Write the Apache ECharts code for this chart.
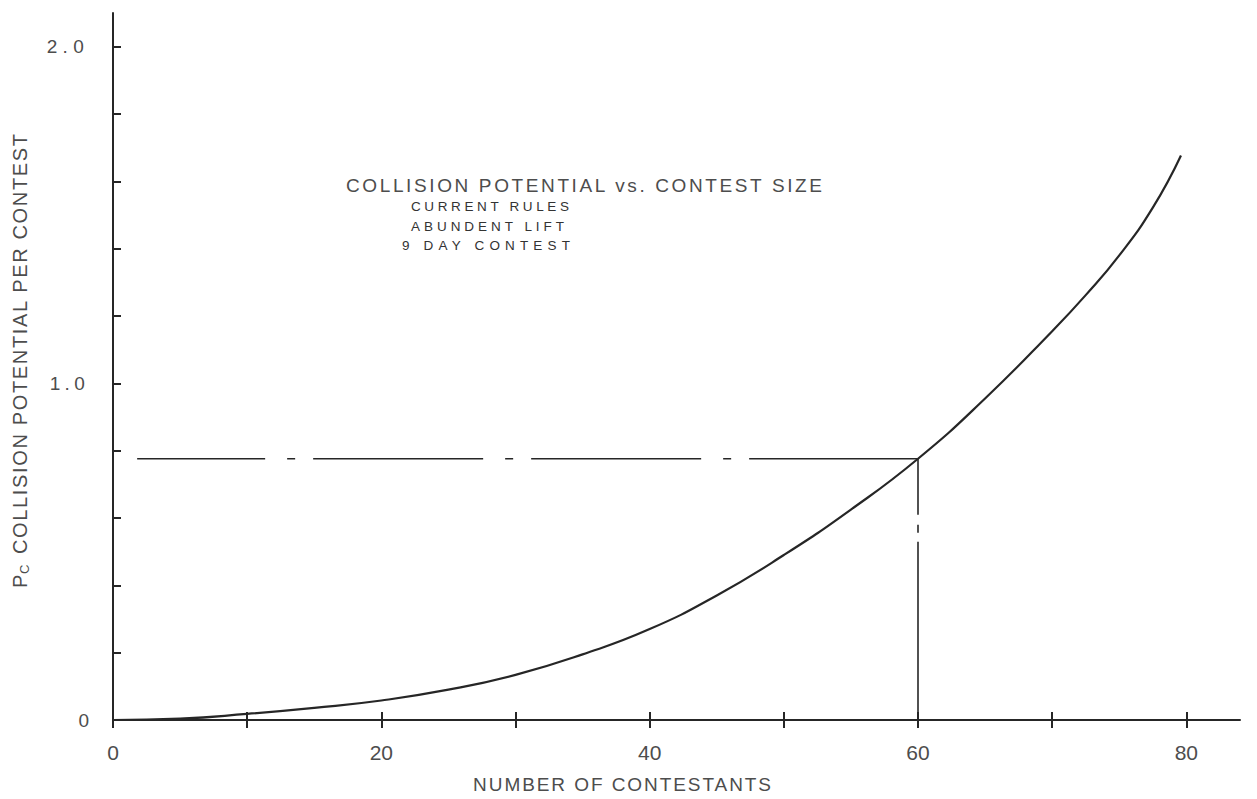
<!DOCTYPE html>
<html><head><meta charset="utf-8">
<script src="https://cdn.jsdelivr.net/npm/echarts@6/dist/echarts.min.js"></script>
<style>html,body{margin:0;padding:0;background:#fff}#c{width:1257px;height:799px}</style>
</head><body><div id="c"></div>
<script>
// Data
const contestants = [0, 5, 10, 15, 20, 25, 30, 35, 40, 45, 50, 55, 60, 65, 70, 72.5, 75, 77.5, 79.6];
const collisionPotential = [0, 0.004, 0.018, 0.036, 0.058, 0.09, 0.134, 0.195, 0.27, 0.37, 0.49, 0.625, 0.776, 0.955, 1.155, 1.262, 1.38, 1.522, 1.677];
const refContestants = 60;
const refPotential = 0.776;
const refLineStartX = 1.8;
const xTickValues = [0, 20, 40, 60, 80];
const xMinorTicks = [0, 10, 20, 30, 40, 50, 60, 70, 80];
const yTickValues = [0, 1, 2];
const yMinorTicks = [0, 0.2, 0.4, 0.6, 0.8, 1.0, 1.2, 1.4, 1.6, 1.8, 2.0];
const xTitle = 'NUMBER OF CONTESTANTS';
const yTitleMain = 'COLLISION POTENTIAL PER CONTEST';
const yTitleP = 'P';
const yTitleSub = 'C';
const annotationTitle = 'COLLISION POTENTIAL vs. CONTEST SIZE';
const annotationLines = ['CURRENT RULES', 'ABUNDENT LIFT', '9 DAY CONTEST'];

const ink = '#262626';
const textInk = '#4d4d4d';
const narrow = '"Liberation Sans Narrow", "Liberation Sans", sans-serif';
const sans = '"Liberation Sans", sans-serif';

// target visible widths of lettered text (hand lettering has wide spacing)
const fitWidths = {};
fitWidths[annotationTitle] = 476;
fitWidths[annotationLines[0]] = 158;
fitWidths[annotationLines[1]] = 153;
fitWidths[annotationLines[2]] = 168;
fitWidths[xTitle] = 298;
fitWidths[yTitleMain] = 420;
fitWidths['2.0'] = 37;
fitWidths['1.0'] = 35;

const curve = contestants.map((x, i) => [x, collisionPotential[i]]);
const hRef = [[refLineStartX, refPotential], [refContestants, refPotential]];
const vRef = [[refContestants, refPotential], [refContestants, 0]];

const chart = echarts.init(document.getElementById('c'), null, { renderer: 'svg' });
chart.setOption({
  animation: false,
  backgroundColor: '#fff',
  grid: { left: 113, right: 17, top: 13, bottom: 79, containLabel: false },
  xAxis: [{
    type: 'value', min: 0, max: 84, interval: 10,
    splitLine: { show: false },
    axisLine: { show: true, lineStyle: { color: ink, width: 2 } },
    axisTick: { show: true, length: 8, customValues: xMinorTicks, lineStyle: { color: ink, width: 2 } },
    axisLabel: { customValues: xTickValues, formatter: v => String(v), color: textInk, fontFamily: narrow, fontSize: 21, margin: 22 }
  }, {
    type: 'value', min: 0, max: 84, interval: 10, position: 'bottom',
    splitLine: { show: false },
    axisLine: { show: false },
    axisTick: { show: true, inside: true, length: 8, customValues: xMinorTicks, lineStyle: { color: ink, width: 2 } },
    axisLabel: { show: false }
  }],
  yAxis: {
    type: 'value', min: 0, max: 2.1, interval: 0.2,
    splitLine: { show: false },
    axisLine: { show: true, lineStyle: { color: ink, width: 2 } },
    axisTick: { show: true, inside: true, length: 8, customValues: yMinorTicks, lineStyle: { color: ink, width: 2 } },
    axisLabel: { customValues: yTickValues, formatter: v => (v === 0 ? '0' : v.toFixed(1)), color: textInk, fontFamily: narrow, fontSize: 19, margin: 24 }
  },
  series: [{
    type: 'line', data: curve, smooth: 0.5, showSymbol: false,
    lineStyle: { color: ink, width: 2.2 }, z: 3
  }, {
    type: 'line', data: hRef, showSymbol: false,
    lineStyle: { color: ink, width: 1.6, type: [170, 22, 8, 18], dashOffset: 42 }
  }, {
    type: 'line', data: vRef, showSymbol: false,
    lineStyle: { color: ink, width: 1.6, type: [180, 10, 8, 9], dashOffset: 124 }
  }],
  graphic: [
    { type: 'text', left: 346, top: 176, style: { text: annotationTitle, fontFamily: narrow, fontSize: 19, fill: textInk } },
    { type: 'text', left: 411, top: 199, style: { text: annotationLines[0], fontFamily: sans, fontSize: 13.5, fill: '#333' } },
    { type: 'text', left: 411, top: 219, style: { text: annotationLines[1], fontFamily: sans, fontSize: 13.5, fill: '#333' } },
    { type: 'text', left: 402, top: 238, style: { text: annotationLines[2], fontFamily: sans, fontSize: 13.5, fill: '#333' } },
    { type: 'text', x: 623, y: 784, style: { text: xTitle, fontFamily: narrow, fontSize: 19, fill: textInk, align: 'center', verticalAlign: 'middle' } },
    { type: 'text', x: 20, y: 588, rotation: Math.PI / 2, style: { text: yTitleP, fontFamily: narrow, fontSize: 20, fill: textInk, align: 'left', verticalAlign: 'middle' } },
    { type: 'text', x: 24, y: 574, rotation: Math.PI / 2, style: { text: yTitleSub, fontFamily: narrow, fontSize: 13, fill: textInk, align: 'left', verticalAlign: 'middle' } },
    { type: 'text', x: 20, y: 554, rotation: Math.PI / 2, style: { text: yTitleMain, fontFamily: narrow, fontSize: 20, fill: textInk, align: 'left', verticalAlign: 'middle' } }
  ]
});

function applyFit() {
  const svg = document.querySelector('#c svg');
  if (!svg) return;
  svg.querySelectorAll('text').forEach(t => {
    const s = t.textContent;
    if (!(s in fitWidths)) return;
    t.setAttribute('letter-spacing', '0');
    const nat = t.getComputedTextLength();
    const ls = (fitWidths[s] - nat) / Math.max(1, s.length - 1);
    t.setAttribute('letter-spacing', ls.toFixed(2));
  });
}
applyFit();
chart.on('finished', applyFit);
setTimeout(applyFit, 50);
</script>
</body></html>
